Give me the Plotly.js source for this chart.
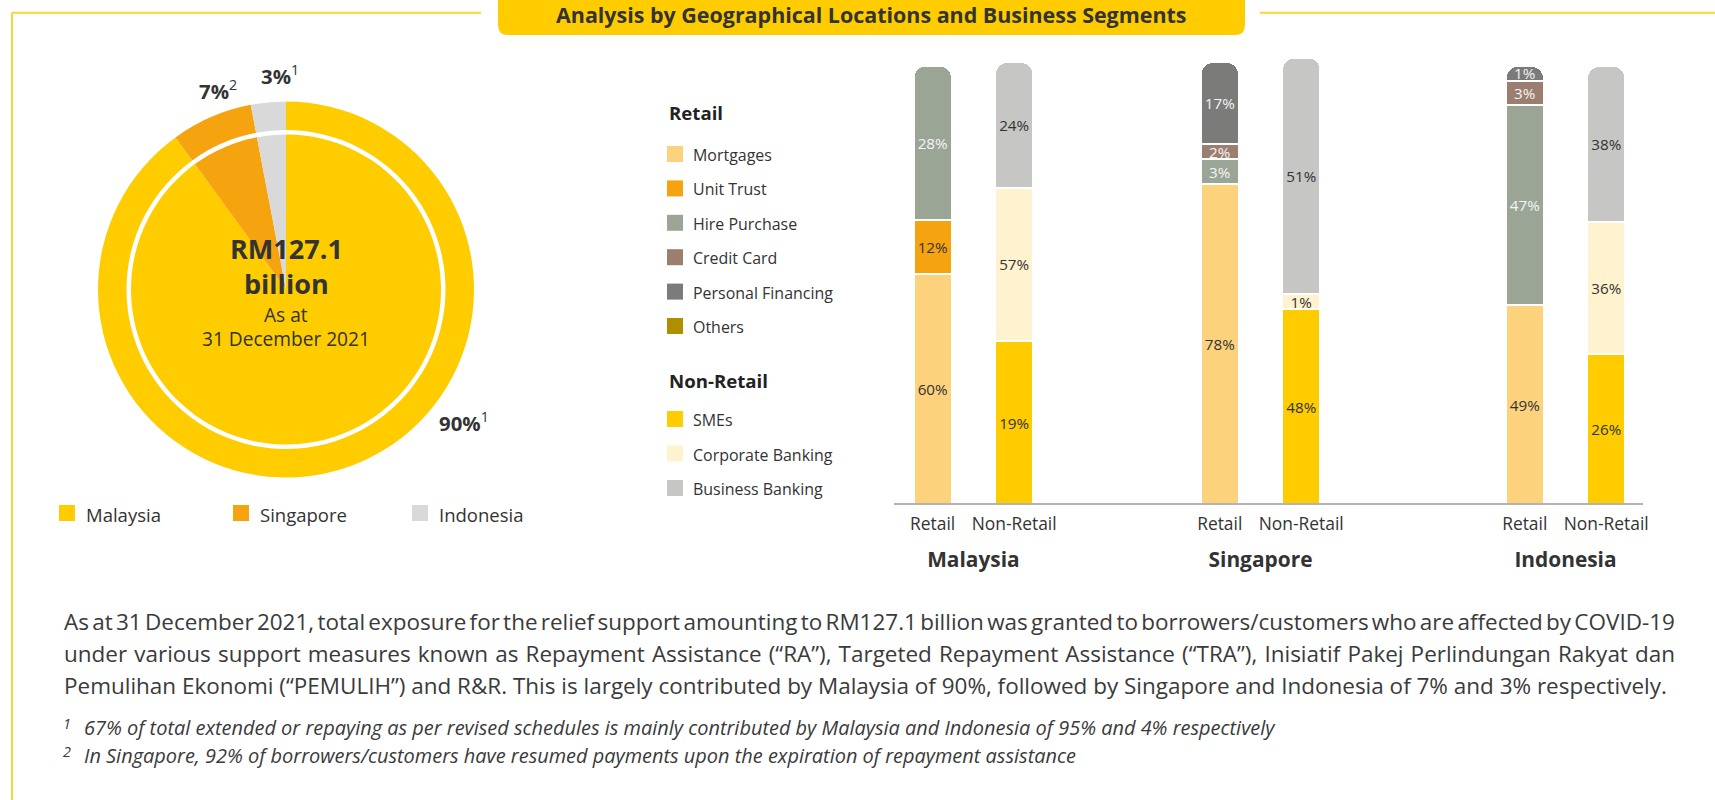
<!DOCTYPE html>
<html>
<head>
<meta charset="utf-8">
<script src="https://cdn.plot.ly/plotly-3.0.1.min.js"></script>
<style>
  html, body { margin: 0; padding: 0; background: #ffffff; }
  #chart { width: 1715px; height: 800px; }
</style>
</head>
<body>
<div id="chart"></div>
<script>
// ---------------- DATA ----------------
const bannerTitle = 'Analysis by Geographical Locations and Business Segments';

const pieCountries = ['Malaysia', 'Singapore', 'Indonesia'];
const pieShares = [90, 7, 3];
const pieNotes = ['1', '2', '1'];
const pieColors = ['#FFCC00', '#F5A30F', '#D9D9D9'];
const pieCentreLines = ['RM127.1', 'billion', 'As at', '31 December 2021'];

const retailSegments = ['Mortgages', 'Unit Trust', 'Hire Purchase', 'Credit Card', 'Personal Financing', 'Others'];
const retailColors = ['#FDD27C', '#F5A30F', '#9BA596', '#9C7E70', '#7B7B79', '#AF8E00'];
const retailTextColors = ['#333333', '#333333', '#F4F4F4', '#F4F4F4', '#F4F4F4', '#F4F4F4'];
const nonRetailSegments = ['SMEs', 'Corporate Banking', 'Business Banking'];
const nonRetailColors = ['#FFCC00', '#FFF2CE', '#C6C6C5'];
const nonRetailTextColors = ['#333333', '#333333', '#333333'];

const barCountries = ['Malaysia', 'Singapore', 'Indonesia'];
const groupTicks = ['Retail', 'Non-Retail'];

// printed percentages (order follows retailSegments / nonRetailSegments)
const malaysiaRetailPct = [60, 12, 28, null, null, null];
const singaporeRetailPct = [78, null, 3, 2, 17, null];
const indonesiaRetailPct = [49, null, 47, 3, 1, null];
const malaysiaNonRetailPct = [19, 57, 24];
const singaporeNonRetailPct = [48, 1, 51];
const indonesiaNonRetailPct = [26, 36, 38];

// segment lengths as drawn in the reference graphic (share of a full bar)
const malaysiaRetailDrawn = [52.6, 12.3, 35.2, null, null, null];
const singaporeRetailDrawn = [73.1, null, 5.6, 3.5, 18.7, null];
const indonesiaRetailDrawn = [45.4, null, 45.7, 5.5, 3.4, null];
const malaysiaNonRetailDrawn = [37.2, 35.0, 28.7];
const singaporeNonRetailDrawn = [44.5, 3.4, 54.0];
const indonesiaNonRetailDrawn = [34.3, 30.0, 35.7];

const legendHeaders = ['Retail', 'Non-Retail'];

const paragraphLines = [
  'As at 31 December 2021, total exposure for the relief support amounting to RM127.1 billion was granted to borrowers/customers who are affected by COVID-19',
  'under various support measures known as Repayment Assistance (\u201CRA\u201D), Targeted Repayment Assistance (\u201CTRA\u201D), Inisiatif Pakej Perlindungan Rakyat dan',
  'Pemulihan Ekonomi (\u201CPEMULIH\u201D) and R&R. This is largely contributed by Malaysia of 90%, followed by Singapore and Indonesia of 7% and 3% respectively.'
];
const footnoteMarks = ['1', '2'];
const footnoteTexts = [
  '67% of total extended or repaying as per revised schedules is mainly contributed by Malaysia and Indonesia of 95% and 4% respectively',
  'In Singapore, 92% of borrowers/customers have resumed payments upon the expiration of repayment assistance'
];

// ---------------- HELPERS ----------------
const W = 1715, H = 800;
const px = x => x / W;
const py = y => 1 - y / H;
const FAM = 'Open Sans';
const FONT = '"Open Sans", "Noto Sans", sans-serif';
const TXT = '#333333';
const YEL = '#FDD535';

const cv = document.createElement('canvas').getContext('2d');
function tw(str, size, weight, style) {
  cv.font = `${style || 'normal'} ${weight || 'normal'} ${size}px "${FAM}"`;
  return cv.measureText(str).width;
}
function fit(str, target, weight, style) {
  return +(20 * target / tw(str, 20, weight, style)).toFixed(2);
}
const esc = s => s.replace(/&/g, '&amp;');

// sizes fitted to the widths measured on the reference
const sTitle = fit(bannerTitle, 631, 'bold');
const sPieLbl = fit('3%', 30, 'bold');
const sBig = fit('RM127.1', 113, 'bold');
const sAsAt = fit('31 December 2021', 168, 'normal');
const sPieLeg = fit('Singapore', 87, 'normal');
const sLegItem = fit('Personal Financing', 140, 'normal');
const sLegHead = fit('Non-Retail', 99, 'bold');
const sTick = fit('Non-Retail', 85, 'normal');
const sCountry = fit('Singapore', 104, 'bold');
const sBarTxt = fit('60%', 30, 'normal');
const sPara = fit(paragraphLines[2], 1604, 'normal');
const sFoot = fit(footnoteTexts[0], 1192, 'normal', 'italic');

const traces = [];
const shapes = [];
const annotations = [];

// ---------------- PIE ----------------
const pcx = 286, pcy = 289.5, pR = 188, pRin = 155, pHole = 159.5 / 188;
traces.push({
  type: 'pie', labels: pieCountries, values: pieShares, sort: false,
  direction: 'clockwise', rotation: 0, hole: pHole,
  marker: { colors: pieColors, line: { width: 0 } },
  textinfo: 'none', showlegend: false, hoverinfo: 'label+percent',
  domain: { x: [px(pcx - pR), px(pcx + pR)], y: [py(pcy + pR), py(pcy - pR)] }
});
traces.push({
  type: 'pie', labels: pieCountries, values: pieShares, sort: false,
  direction: 'clockwise', rotation: 0,
  marker: { colors: pieColors, line: { width: 0 } },
  textinfo: 'none', showlegend: false, hoverinfo: 'label+percent',
  domain: { x: [px(pcx - pRin), px(pcx + pRin)], y: [py(pcy + pRin), py(pcy - pRin)] }
});
const pieLabelPos = [[437, 421.5], [196.7, 90], [259, 75]];
pieCountries.forEach((c, i) => {
  annotations.push({
    x: px(pieLabelPos[i][0]), y: py(pieLabelPos[i][1]), xanchor: 'left', yanchor: 'middle',
    text: `<b>${pieShares[i]}%</b><sup>${pieNotes[i]}</sup>`,
    font: { family: FONT, size: sPieLbl, color: TXT }
  });
});
const centreY = [248, 283, 315, 339];
pieCentreLines.forEach((t, i) => {
  const bold = i < 2;
  annotations.push({
    x: px(pcx), y: py(centreY[i]), xanchor: 'center', yanchor: 'middle',
    text: bold ? `<b>${t}</b>` : t,
    font: { family: FONT, size: bold ? sBig : sAsAt, color: TXT }
  });
});
// pie legend
const pieLegX = [59, 233, 412];
const pieLegY = 513;
pieCountries.forEach((c, i) => {
  shapes.push({ type: 'rect', xref: 'paper', yref: 'paper', x0: px(pieLegX[i]), x1: px(pieLegX[i] + 16),
    y0: py(pieLegY + 8), y1: py(pieLegY - 8), fillcolor: pieColors[i], line: { width: 0 } });
  annotations.push({ x: px(pieLegX[i] + 25), y: py(pieLegY + 1), xanchor: 'left', yanchor: 'middle', text: c,
    font: { family: FONT, size: sPieLeg, color: TXT } });
});

// ---------------- BARS ----------------
const axisIds = ['x', 'x2', 'x3'];
const axisCentres = [973.4, 1260.5, 1565.5];
const axisHalf = 81.5;
const retailPct = [malaysiaRetailPct, singaporeRetailPct, indonesiaRetailPct];
const retailDrawn = [malaysiaRetailDrawn, singaporeRetailDrawn, indonesiaRetailDrawn];
const nonRetailPct = [malaysiaNonRetailPct, singaporeNonRetailPct, indonesiaNonRetailPct];
const nonRetailDrawn = [malaysiaNonRetailDrawn, singaporeNonRetailDrawn, indonesiaNonRetailDrawn];

function addBar(axis, cat, seg, val, pct, color, tcolor, country) {
  traces.push({
    type: 'bar', x: [cat], y: [val], xaxis: axis, yaxis: 'y', name: seg,
    width: 0.47, text: [pct + '%'], textposition: 'inside', insidetextanchor: 'middle',
    textfont: { family: FONT, size: sBarTxt, color: tcolor },
    marker: { color: color, line: { color: '#ffffff', width: 2 } },
    showlegend: false, hovertext: [`${country} ${cat}: ${seg} ${pct}%`], hoverinfo: 'text'
  });
}
barCountries.forEach((country, ci) => {
  retailSegments.forEach((seg, si) => {
    if (retailDrawn[ci][si] != null)
      addBar(axisIds[ci], groupTicks[0], seg, retailDrawn[ci][si], retailPct[ci][si], retailColors[si], retailTextColors[si], country);
  });
  nonRetailSegments.forEach((seg, si) => {
    if (nonRetailDrawn[ci][si] != null)
      addBar(axisIds[ci], groupTicks[1], seg, nonRetailDrawn[ci][si], nonRetailPct[ci][si], nonRetailColors[si], nonRetailTextColors[si], country);
  });
});

const baseY = 504, fullBar = 438, yMax = 110;
const layout = {
  width: W, height: H, margin: { l: 0, r: 0, t: 0, b: 0 },
  paper_bgcolor: '#ffffff', plot_bgcolor: 'rgba(0,0,0,0)',
  showlegend: false, barmode: 'stack', barcornerradius: 12,
  uniformtext: { mode: 'show', minsize: sBarTxt },
  font: { family: FONT, color: TXT },
  yaxis: { domain: [py(baseY), py(baseY - fullBar * yMax / 100)], range: [0, yMax], visible: false, fixedrange: true },
  shapes: shapes, annotations: annotations
};
barCountries.forEach((country, ci) => {
  const key = ci === 0 ? 'xaxis' : 'xaxis' + (ci + 1);
  layout[key] = {
    domain: [px(axisCentres[ci] - axisHalf), px(axisCentres[ci] + axisHalf)],
    anchor: 'y', type: 'category', categoryorder: 'array', categoryarray: groupTicks,
    range: [-0.5, 1.5], showgrid: false, zeroline: false, showline: false, ticks: '',
    ticklabelstandoff: 8, fixedrange: true,
    tickfont: { family: FONT, size: sTick, color: TXT },
    title: { text: country, standoff: 17, font: { family: FONT, size: sCountry, color: TXT, weight: 'bold' } }
  };
});
// baseline
shapes.push({ type: 'line', xref: 'paper', yref: 'paper', x0: px(894), x1: px(1643), y0: py(baseY), y1: py(baseY),
  line: { color: '#9A9A9A', width: 1.5 }, layer: 'above' });

// bar legend
const legSqX = 667, legTxtX = 691;
const headerY = [113, 380];
const retailRowY = [154, 188.4, 222.8, 257.2, 291.6, 326];
const nonRetailRowY = [419, 453.5, 488];
annotations.push({ x: px(legSqX), y: py(headerY[0]), xanchor: 'left', yanchor: 'middle', text: `<b>${legendHeaders[0]}</b>`,
  font: { family: FONT, size: sLegHead, color: '#222222' } });
annotations.push({ x: px(legSqX), y: py(headerY[1]), xanchor: 'left', yanchor: 'middle', text: `<b>${legendHeaders[1]}</b>`,
  font: { family: FONT, size: sLegHead, color: '#222222' } });
function legendRow(name, color, y) {
  shapes.push({ type: 'rect', xref: 'paper', yref: 'paper', x0: px(legSqX), x1: px(legSqX + 16),
    y0: py(y + 8), y1: py(y - 8), fillcolor: color, line: { width: 0 } });
  annotations.push({ x: px(legTxtX), y: py(y + 1), xanchor: 'left', yanchor: 'middle', text: name,
    font: { family: FONT, size: sLegItem, color: TXT } });
}
retailSegments.forEach((s, i) => legendRow(s, retailColors[i], retailRowY[i]));
nonRetailSegments.forEach((s, i) => legendRow(s, nonRetailColors[i], nonRetailRowY[i]));

// ---------------- FRAME & BANNER ----------------
const bx0 = 498, bx1 = 1245, bTop = -4, bBot = 35, br = 10;
shapes.push({ type: 'path', xref: 'paper', yref: 'paper', fillcolor: '#FFCC00', line: { width: 0 },
  path: `M ${px(bx0)},${py(bTop)} L ${px(bx0)},${py(bBot - br)} Q ${px(bx0)},${py(bBot)} ${px(bx0 + br)},${py(bBot)} ` +
        `L ${px(bx1 - br)},${py(bBot)} Q ${px(bx1)},${py(bBot)} ${px(bx1)},${py(bBot - br)} L ${px(bx1)},${py(bTop)} Z` });
const lineY = 12.7;
shapes.push({ type: 'line', xref: 'paper', yref: 'paper', x0: px(12), x1: px(481), y0: py(lineY), y1: py(lineY), line: { color: YEL, width: 2 } });
shapes.push({ type: 'line', xref: 'paper', yref: 'paper', x0: px(1260), x1: px(1715), y0: py(lineY), y1: py(lineY), line: { color: YEL, width: 2 } });
shapes.push({ type: 'line', xref: 'paper', yref: 'paper', x0: px(12), x1: px(12), y0: py(lineY), y1: py(800), line: { color: YEL, width: 2 } });
annotations.push({ x: px(871), y: py(14.5), xanchor: 'center', yanchor: 'middle', text: `<b>${bannerTitle}</b>`,
  font: { family: FONT, size: sTitle, color: '#333333' } });

// ---------------- PARAGRAPH ----------------
const paraX = 62, paraRight = 1673, paraY = [621, 653, 685];
paragraphLines.forEach((line, i) => {
  let txt = esc(line);
  if (i < paragraphLines.length - 1) {
    const spaces = (line.match(/ /g) || []).length;
    const ws = (paraRight - paraX - tw(line, sPara)) / spaces;
    txt = `<span style="word-spacing:${ws.toFixed(2)}px">${txt}</span>`;
  }
  annotations.push({ x: px(paraX), y: py(paraY[i]), xanchor: 'left', yanchor: 'middle', text: txt,
    font: { family: FONT, size: sPara, color: '#3A3A3A' } });
});
const footY = [727, 755];
footnoteTexts.forEach((t, i) => {
  annotations.push({ x: px(61), y: py(footY[i] - 4), xanchor: 'left', yanchor: 'middle', text: `<i>${footnoteMarks[i]}</i>`,
    font: { family: FONT, size: sFoot * 0.72, color: '#3A3A3A' } });
  annotations.push({ x: px(82), y: py(footY[i]), xanchor: 'left', yanchor: 'middle', text: `<i>${t}</i>`,
    font: { family: FONT, size: sFoot, color: '#3A3A3A' } });
});

annotations.forEach(a => { a.xref = a.xref || 'paper'; a.yref = a.yref || 'paper'; a.showarrow = false; });

Plotly.newPlot('chart', traces, layout, { displayModeBar: false, responsive: false });
</script>
</body>
</html>
